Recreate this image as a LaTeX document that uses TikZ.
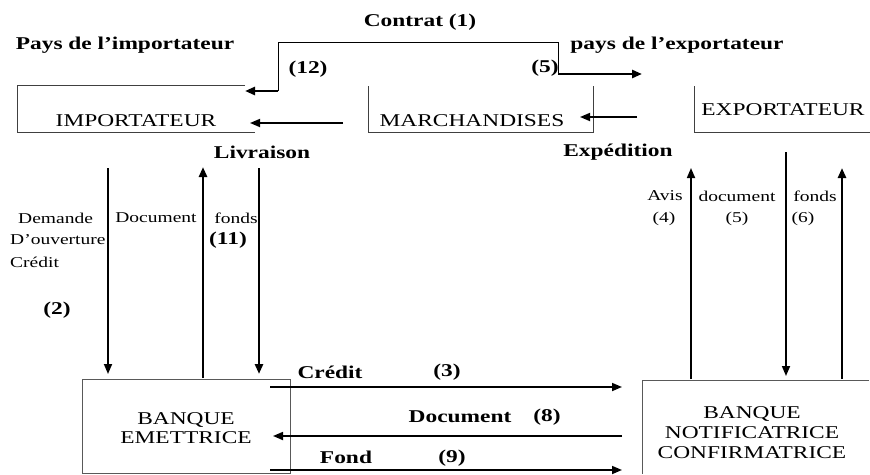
\documentclass[tikz,border=0pt]{standalone}
\usepackage{fontspec}
\setmainfont{Liberation Serif}[FakeStretch=1.3]
\usetikzlibrary{arrows.meta}
\newcommand{\apos}{\char39\relax}
\tikzset{
  cadre/.style={draw=black!75, line width=0.8pt},
  fleche/.style={line width=1.7pt, -{Triangle[length=10pt,width=8pt]}},
  flechegrasse/.style={line width=2.8pt, -{Triangle[length=10pt,width=8pt]}},
  titre/.style={font=\fontsize{18}{20}\selectfont\bfseries, inner sep=0pt},
  petit/.style={font=\fontsize{15}{17}\selectfont, inner sep=0pt},
  acteur/.style={font=\fontsize{18}{20}\selectfont, inner sep=0pt, align=center}
}
\begin{document}
\begin{tikzpicture}[x=1pt,y=-1pt]
\useasboundingbox (0,0) rectangle (870,474);
% Titles
\node[titre] (contrat) at (420,22) {Contrat (1)};
\node[titre] (paysimp) at (125,45) {Pays de l\apos importateur};
\node[titre] (paysexp) at (677,45) {pays de l\apos exportateur};
\node[titre] (n12) at (308,69) {(12)};
\node[titre] (n5) at (545,68) {(5)};
% Open boxes of the top row
\draw[cadre] (245,85) -- (17,85) -- (17,132) -- (255,132);
\draw[cadre] (368,86) -- (368,132) -- (593,132) -- (593,86);
\draw[cadre] (694,86) -- (694,132) -- (870,132);
\node[acteur] (imp) at (136,121) {IMPORTATEUR};
\node[acteur] (mar) at (472,121) {MARCHANDISES};
\node[acteur] (exp) at (783,110) {EXPORTATEUR};
% Contract line
\coordinate (c1) at (278,91);
\coordinate (c2) at (278,42);
\coordinate (c3) at (558,42);
\coordinate (c4) at (558,74);
\coordinate (a12) at (245,91);
\coordinate (a5) at (642,74);
\draw[line width=0.9pt] (c1) -- (c2) -- (c3) -- (c4);
\draw[flechegrasse] (c1) -- (a12);
\draw[flechegrasse] (c4) -- (a5);
% Delivery and shipping
\coordinate (livD) at (343,123);
\coordinate (livA) at (250,123);
\coordinate (expD) at (637,117);
\coordinate (expA) at (580,117);
\draw[fleche] (livD) -- (livA);
\draw[fleche] (expD) -- (expA);
\node[titre] (livraison) at (262,152) {Livraison};
\node[titre] (expedition) at (618,152) {Expédition};
% Banks
\draw[draw=black!65, line width=0.8pt] (82,379) rectangle (290,473);
\draw[draw=black!65, line width=0.8pt] (869,380) -- (642,380) -- (642,474);
\node[acteur] (bem) at (186,428) {BANQUE\\[-1pt]EMETTRICE};
\node[acteur] (bnc) at (752,433) {BANQUE\\NOTIFICATRICE\\CONFIRMATRICE};
% Importer side verticals
\coordinate (v1h) at (108,168);
\coordinate (v1b) at (108,374);
\coordinate (v2h) at (203,167);
\coordinate (v2b) at (203,378);
\coordinate (v3h) at (259,168);
\coordinate (v3b) at (259,374);
\draw[fleche] (v1h) -- (v1b);
\draw[flechegrasse] (v2b) -- (v2h);
\draw[flechegrasse] (v3h) -- (v3b);
\node[petit, anchor=west] (demande) at (18,218) {Demande};
\node[petit, anchor=west] (ouverture) at (10,240) {D\apos ouverture};
\node[petit, anchor=west] (credit) at (10,262) {Crédit};
\node[titre] (n2) at (57,310) {(2)};
\node[petit] (docimp) at (156,218) {Document};
\node[petit] (fondsimp) at (236,218) {fonds};
\node[titre] (n11) at (228,240) {(11)};
% Exporter side verticals
\coordinate (w1h) at (691,168);
\coordinate (w1b) at (691,379);
\coordinate (w2h) at (786,152);
\coordinate (w2b) at (786,376);
\coordinate (w3h) at (842,168);
\coordinate (w3b) at (842,379);
\draw[fleche] (w1b) -- (w1h);
\draw[fleche] (w2h) -- (w2b);
\draw[flechegrasse] (w3b) -- (w3h);
\node[petit] (avis) at (665,196) {Avis};
\node[petit] (n4) at (664,219) {(4)};
\node[petit] (docexp) at (737,196) {document};
\node[petit] (n5b) at (737,219) {(5)};
\node[petit] (fondsexp) at (815,196) {fonds};
\node[petit] (n6) at (803,219) {(6)};
% Between the banks
\coordinate (h1g) at (270,387);
\coordinate (h1d) at (622,387);
\coordinate (h2g) at (273,436);
\coordinate (h2d) at (622,436);
\coordinate (h3g) at (270,470);
\coordinate (h3d) at (622,470);
\draw[fleche] (h1g) -- (h1d);
\draw[fleche] (h2d) -- (h2g);
\draw[fleche] (h3g) -- (h3d);
\node[titre] (credit3) at (330,372) {Crédit};
\node[titre] (n3) at (447,372) {(3)};
\node[titre] (document8) at (460,417) {Document};
\node[titre] (n8) at (547,417) {(8)};
\node[titre] (fond9) at (346,457) {Fond};
\node[titre] (n9) at (452,458) {(9)};
\end{tikzpicture}
\end{document}
